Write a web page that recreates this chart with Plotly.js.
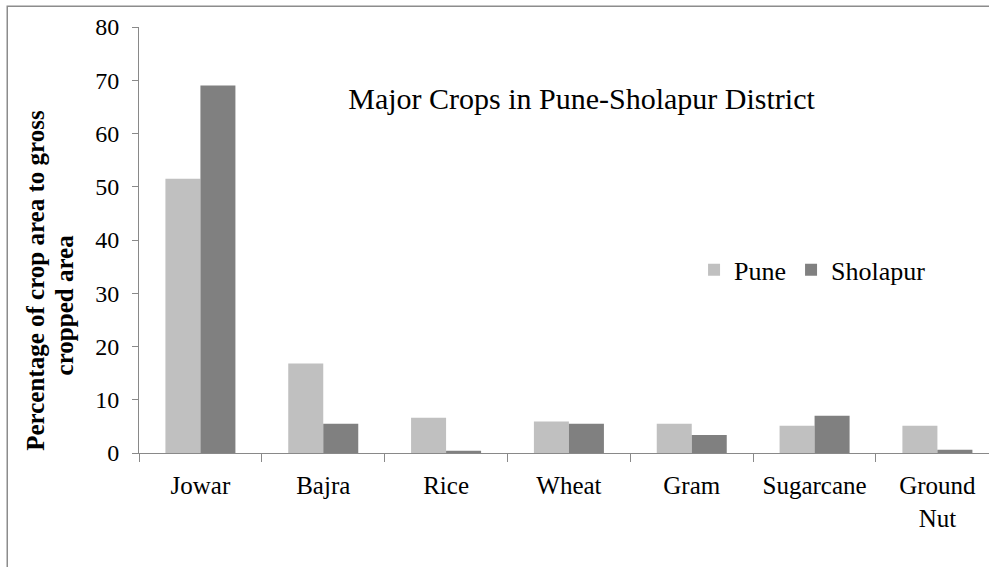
<!DOCTYPE html>
<html>
<head>
<meta charset="utf-8">
<script src="https://cdn.plot.ly/plotly-3.0.1.min.js"></script>
<style>html,body{margin:0;padding:0;background:#fff;}#chart{width:989px;height:567px;}</style>
</head>
<body>
<div id="chart"></div>
<script>
var categories = ["Jowar", "Bajra", "Rice", "Wheat", "Gram", "Sugarcane", "Ground<br>Nut"];
var puneValues = [51.5, 16.8, 6.6, 5.9, 5.5, 5.1, 5.1];
var sholapurValues = [69.0, 5.5, 0.4, 5.5, 3.4, 7.0, 0.6];
var yTickValues = [0, 10, 20, 30, 40, 50, 60, 70, 80];

var serif = "Liberation Serif, Times New Roman, serif";

var traces = [
  {type: "bar", name: "Pune", x: categories, y: puneValues, marker: {color: "#C0C0C0"}, hoverinfo: "skip"},
  {type: "bar", name: "Sholapur", x: categories, y: sholapurValues, marker: {color: "#808080"}, hoverinfo: "skip"}
];

var layout = {
  width: 989, height: 567,
  margin: {l: 139, r: 0, t: 27, b: 114, pad: 0},
  paper_bgcolor: "#ffffff", plot_bgcolor: "#ffffff",
  barmode: "group", bargap: 0.43, bargroupgap: 0,
  showlegend: true,
  font: {family: serif, color: "#000", size: 24},
  title: {text: "Major Crops in Pune-Sholapur District", font: {family: serif, size: 30, color: "#000"},
          xref: "container", x: 0.588, xanchor: "center", yref: "container", y: 0.827, yanchor: "middle"},
  legend: {orientation: "h", x: 0.653, xanchor: "left", y: 0.43, yanchor: "middle",
           font: {family: serif, size: 26, color: "#000"}, bgcolor: "rgba(0,0,0,0)", tracegroupgap: 0},
  xaxis: {type: "category", range: [-0.5, 6.42], showgrid: false, zeroline: false,
          showline: true, linecolor: "#898989", linewidth: 1,
          ticks: "outside", tickson: "boundaries", ticklen: 8, tickcolor: "#898989", tickwidth: 1,
          ticklabelstandoff: 10,
          tickfont: {family: serif, size: 25, color: "#000"}, automargin: false},
  yaxis: {range: [0, 80], tickvals: yTickValues, showgrid: false, zeroline: false,
          showline: true, linecolor: "#898989", linewidth: 1,
          ticks: "outside", ticklen: 6, tickcolor: "#898989", tickwidth: 1,
          ticklabelstandoff: 8,
          tickfont: {family: serif, size: 24, color: "#000"}, automargin: false},
  annotations: [
    {text: "<b>Percentage of crop area to gross</b>", textangle: -90, xref: "paper", yref: "paper",
     x: -0.122, y: 0.0, xanchor: "center", yanchor: "bottom", showarrow: false,
     font: {family: serif, size: 25, color: "#000"}},
    {text: "<b>cropped area</b>", textangle: -90, xref: "paper", yref: "paper",
     x: -0.088, y: 0.347, xanchor: "center", yanchor: "middle", showarrow: false,
     font: {family: serif, size: 25, color: "#000"}}
  ],
  shapes: [
    {type: "rect", xref: "paper", yref: "paper", x0: -0.155, x1: 1.05, y0: -0.5, y1: 1.049,
     line: {color: "#8c8c8c", width: 1.5}, fillcolor: "rgba(0,0,0,0)", layer: "below"}
  ]
};

Plotly.newPlot("chart", traces, layout, {displayModeBar: false, staticPlot: true});
</script>
</body>
</html>
